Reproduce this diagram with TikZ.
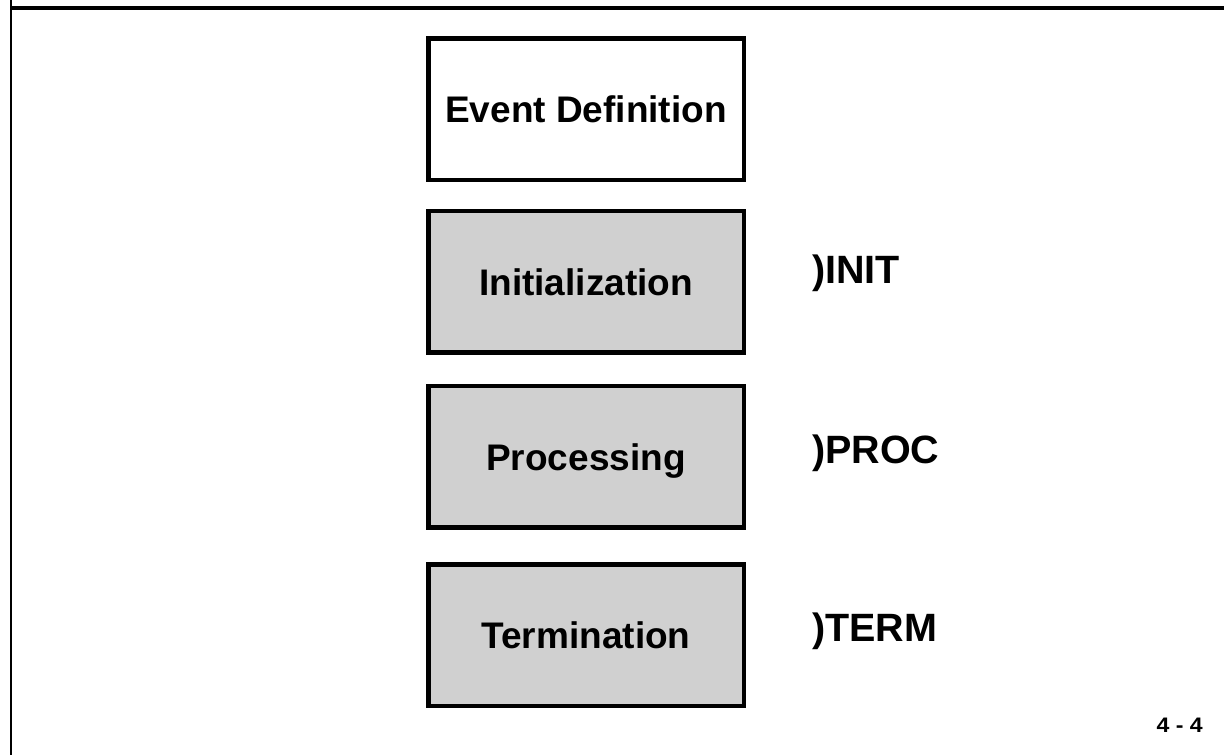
\documentclass[tikz,border=0pt]{standalone}
\usepackage{fontspec}
\setmainfont{Liberation Sans}
\definecolor{boxgray}{RGB}{208,208,208}
\begin{document}
\begin{tikzpicture}[x=1pt,y=-1pt,
  stagebox/.style={draw=black, line width=4.5pt, minimum width=315.5pt,
    minimum height=141.5pt, inner sep=0pt, text height=27pt, text depth=0pt,
    font=\fontsize{37}{44}\selectfont\bfseries},
  cmdlabel/.style={anchor=west, inner sep=0pt, text height=28pt, text depth=0pt,
    font=\fontsize{39.5}{46}\selectfont\bfseries},
  frameline/.style={draw=black}]
\useasboundingbox (0,0) rectangle (1224,755);

% page frame
\draw[frameline, line width=2.5pt] (11,0) -- (11,755);
\draw[frameline, line width=3.5pt] (11,7.8) -- (1224,7.8);

% the four stages
\node[stagebox, fill=white] (evdef) at (586,109.4) {Event Definition};
\node[stagebox, fill=boxgray] (init) at (586,281.5) {Initialization};
\node[stagebox, fill=boxgray] (proc) at (586,456.5) {Processing};
\node[stagebox, fill=boxgray] (term) at (586,635) {Termination};

% commands beside the stages
\node[cmdlabel] (lblinit) at (812,269) {)INIT};
\node[cmdlabel] (lblproc) at (812,449) {)PROC};
\node[cmdlabel] (lblterm) at (812,627) {)TERM};

% page number
\node[anchor=east, inner sep=0pt, text height=15pt, text depth=0pt,
  font=\fontsize{21}{25}\selectfont\bfseries] (pagenum) at (1203,725)
  {\scalebox{1.1}[1]{4 - 4}};
\end{tikzpicture}
\end{document}
